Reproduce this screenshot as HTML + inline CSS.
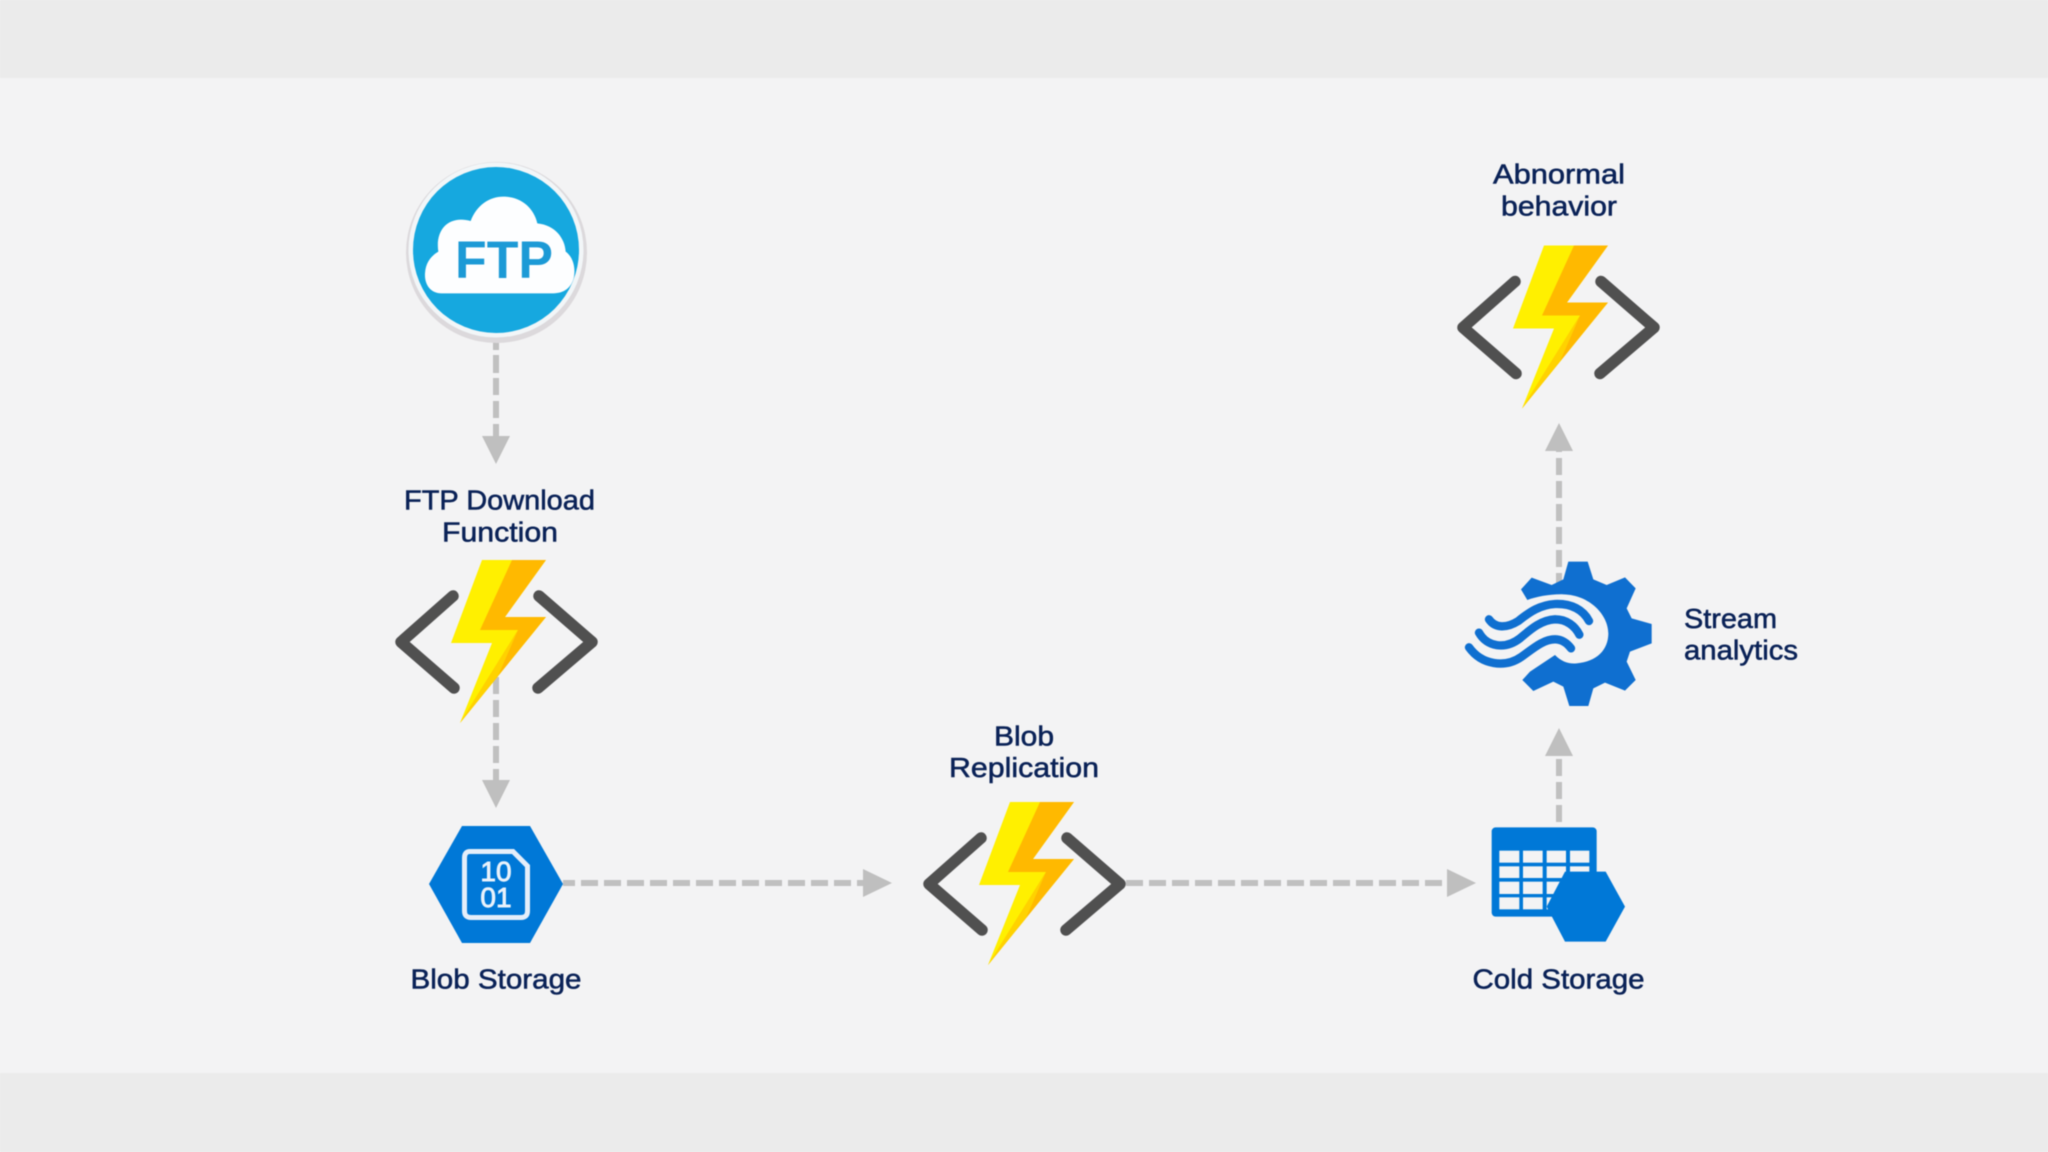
<!DOCTYPE html>
<html lang="en">
<head>
<meta charset="utf-8">
<title>Azure FTP pipeline diagram</title>
<style>
html,body{margin:0;padding:0;background:#f3f3f4;}
svg{display:block;filter:blur(.45px);}
text{font-family:"Liberation Sans",sans-serif;}
.l{font-size:28px;fill:#0a2257;stroke:#0a2257;stroke-width:.55px;}
</style>
</head>
<body>
<svg width="2048" height="1152" viewBox="0 0 2048 1152" xmlns="http://www.w3.org/2000/svg">
<defs>
  <g id="fn">
    <polyline points="453,596 401,642 454,688" fill="none" stroke="#505050" stroke-width="11.5" stroke-linecap="round" stroke-linejoin="round"/>
    <polyline points="539,596 592,642 538,688" fill="none" stroke="#505050" stroke-width="11.5" stroke-linecap="round" stroke-linejoin="round"/>
    <polygon points="482,560 546,560 505,617 546,617 460,723 492,643 451,643" fill="#fff000"/>
    <polygon points="512,560 546,560 505,617 546,617 460,723 518,630 480,630" fill="#ffb900"/>
    <polygon points="518,630 460,723 498,676" fill="#ffd200"/>
  </g>
</defs>

<rect width="2048" height="1152" fill="#f3f3f4"/>
<rect width="2048" height="78" fill="#ebebeb"/>
<rect y="1073" width="2048" height="79" fill="#ebebeb"/>

<g fill="none" stroke="#c0c0c0" stroke-width="6">
  <line x1="496" y1="340" x2="496" y2="436" stroke-dasharray="10 5 18 5 17 6 17 6 17 5"/>
  <line x1="496" y1="677" x2="496" y2="782" stroke-dasharray="17 6"/>
  <line x1="563" y1="883" x2="864" y2="883" stroke-dasharray="12 6 17 6 17 6 17 6 17 6 17 6 17 6 17 6 17 6 17 6 17 6 17 6 17 6 17 6"/>
  <line x1="1126" y1="883" x2="1448" y2="883" stroke-dasharray="17 6"/>
  <line x1="1559" y1="822" x2="1559" y2="756" stroke-dasharray="17 6"/>
  <line x1="1559" y1="590" x2="1559" y2="451" stroke-dasharray="17 6"/>
</g>
<g fill="#bfbfbf">
  <polygon points="482,436 510,436 496,464"/>
  <polygon points="482,780 510,780 496,808"/>
  <polygon points="863,869 892,883 863,897"/>
  <polygon points="1447,869 1476,883 1447,897"/>
  <polygon points="1545,756 1573,756 1559,728"/>
  <polygon points="1545,451 1573,451 1559,423"/>
</g>

<!-- FTP icon -->
<circle cx="496.5" cy="252.5" r="90.5" fill="#dcd9dc"/>
<circle cx="496" cy="250" r="87.5" fill="#f2f6f8"/>
<circle cx="496" cy="250" r="83" fill="#16a8df"/>
<g transform="translate(380 140) scale(.33333)">
  <path d="M185,460 C150,460 133,432 135,400 C137,370 150,350 175,335 C165,270 205,225 272,243 C290,195 330,168 375,170 C425,172 462,205 472,250 C525,255 555,295 557,335 C578,350 587,380 582,410 C575,445 550,460 520,460 Z" fill="#fdfeff"/>
</g>
<text x="455" y="278" font-size="53" font-weight="700" fill="#1c9ad6" textLength="98" lengthAdjust="spacingAndGlyphs">FTP</text>

<!-- Function icons -->
<use href="#fn"/>
<use href="#fn" transform="translate(528 242)"/>
<use href="#fn" transform="translate(1062 -314.5)"/>

<!-- Blob storage -->
<polygon points="462,826 530,826 563,884 530,943 462,943 429,884" fill="#0078d7"/>
<path d="M470,851.5 H513 L527.5,866 V911 Q527.5,917.5 521,917.5 H471 Q464.5,917.5 464.5,911 V858 Q464.5,851.5 470,851.5 Z" fill="none" stroke="#e4eefa" stroke-width="5"/>
<text x="496" y="881" font-size="28" fill="#e9f2fb" stroke="#e9f2fb" stroke-width=".9" text-anchor="middle">10</text>
<text x="496" y="907" font-size="28" fill="#e9f2fb" stroke="#e9f2fb" stroke-width=".9" text-anchor="middle">01</text>

<!-- Cold storage -->
<g transform="translate(1440 780) scale(.33333)">
  <rect x="155" y="142" width="315" height="268" rx="12" fill="#0078d7"/>
  <g fill="#f3f3f4">
    <rect x="178" y="212" width="60" height="36"/><rect x="249" y="212" width="59" height="36"/><rect x="320" y="212" width="58" height="36"/><rect x="390" y="212" width="58" height="36"/>
    <rect x="178" y="259" width="60" height="35"/><rect x="249" y="259" width="59" height="35"/><rect x="320" y="259" width="58" height="35"/><rect x="390" y="259" width="58" height="35"/>
    <rect x="178" y="305" width="60" height="37"/><rect x="249" y="305" width="59" height="37"/><rect x="320" y="305" width="58" height="37"/>
    <rect x="178" y="352" width="60" height="36"/><rect x="249" y="352" width="59" height="36"/><rect x="320" y="352" width="58" height="36"/>
  </g>
  <polygon points="375,275 497,275 555,380 497,485 375,485 320,380" fill="#0078d7"/>
</g>

<!-- Stream analytics -->
<g transform="translate(1440 540) scale(.33333)">
  <path d="M385,65 L443,65 L460,118 L500,135 L555,112 L587,145 L560,205 L575,235 L635,252 L635,310 L570,335 L560,365 L587,420 L555,452 L495,428 L460,445 L445,498 L388,498 L370,440 L340,425 L280,453 L247,420 L270,395 L345,345 C365,365 385,372 410,370 C470,365 505,330 505,280 C505,225 450,165 370,163 C330,162 290,170 262,180 L243,148 L275,113 L335,135 L370,118 Z" fill="#0f6fd0"/>
  <g fill="none" stroke="#0f6fd0" stroke-width="25" stroke-linecap="round">
    <path d="M147,238 C165,265 200,265 235,243 C270,215 300,195 345,192 C395,190 430,210 447,243"/>
    <path d="M117,278 C140,320 195,330 240,295 C275,265 305,240 345,238 C380,238 405,258 418,284"/>
    <path d="M87,322 C125,375 195,385 245,350 C280,325 310,298 345,298 C365,298 382,310 393,325"/>
  </g>
</g>

<!-- Labels -->
<text class="l" x="404" y="509.5" textLength="191" lengthAdjust="spacingAndGlyphs">FTP Download</text>
<text class="l" x="442" y="541.5" textLength="116" lengthAdjust="spacingAndGlyphs">Function</text>
<text class="l" x="410.5" y="988.5" textLength="171" lengthAdjust="spacingAndGlyphs">Blob Storage</text>
<text class="l" x="994" y="745.5" textLength="60" lengthAdjust="spacingAndGlyphs">Blob</text>
<text class="l" x="949" y="777" textLength="150" lengthAdjust="spacingAndGlyphs">Replication</text>
<text class="l" x="1472.5" y="988.5" textLength="172" lengthAdjust="spacingAndGlyphs">Cold Storage</text>
<text class="l" x="1684" y="628" textLength="93" lengthAdjust="spacingAndGlyphs">Stream</text>
<text class="l" x="1684" y="659.5" textLength="114" lengthAdjust="spacingAndGlyphs">analytics</text>
<text class="l" x="1493" y="183.5" textLength="132" lengthAdjust="spacingAndGlyphs">Abnormal</text>
<text class="l" x="1501" y="215.5" textLength="116" lengthAdjust="spacingAndGlyphs">behavior</text>
</svg>
</body>
</html>
